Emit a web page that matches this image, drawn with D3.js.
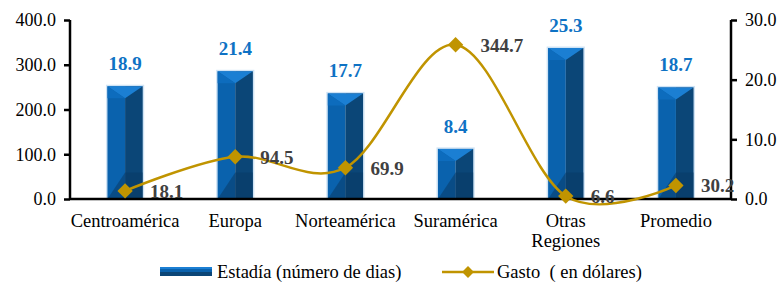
<!DOCTYPE html>
<html>
<head>
<meta charset="utf-8">
<script src="https://cdn.jsdelivr.net/npm/d3@7"></script>
</head>
<body style="margin:0">
<svg id="chart" width="781" height="284" font-family="Liberation Serif"></svg>
<script>
const categories = ["Centroamérica", "Europa", "Norteamérica", "Suramérica", "Otras Regiones", "Promedio"];
const estadia = [18.9, 21.4, 17.7, 8.4, 25.3, 18.7];
const gasto = [18.1, 94.5, 69.9, 344.7, 6.6, 30.2];
const leftTicks = [0, 100, 200, 300, 400];
const rightTicks = [0, 10, 20, 30];

const plot = { left: 70, right: 731, top: 20, bottom: 199 };
const fontFam = "Liberation Serif";

const svg = d3.select("#chart");

const x = d3.scaleBand()
  .domain(categories)
  .range([plot.left, plot.right])
  .paddingInner(0.68)
  .paddingOuter(0.34);

const yLeft = d3.scaleLinear().domain([0, 400]).range([plot.bottom, plot.top]);
const yRight = d3.scaleLinear().domain([0, 30]).range([plot.bottom, plot.top]);

// Bars (3D prism look)
const bw = x.bandwidth();
const bars = svg.append("g").selectAll("g")
  .data(categories.map((c, i) => ({ c, v: estadia[i] })))
  .enter().append("g");

bars.each(function (d) {
  const g = d3.select(this);
  const x0 = x(d.c), x1 = x0 + bw, xm = x0 + bw / 2;
  const top = yRight(d.v), bot = yRight(0);
  const bev = Math.min(12, (bot - top) / 3);
  g.append("rect").attr("x", x0 - 1.5).attr("y", top - 1.5)
    .attr("width", bw + 3).attr("height", bot - top + 1.5)
    .attr("fill", "#cfe3f5");
  g.append("rect").attr("x", x0).attr("y", top)
    .attr("width", bw / 2).attr("height", bot - top).attr("fill", "#0a62ad");
  g.append("rect").attr("x", xm).attr("y", top)
    .attr("width", bw / 2).attr("height", bot - top).attr("fill", "#0b4677");
  g.append("polygon")
    .attr("points", [[x0, top], [x1, top], [xm, top + bev]].join(" "))
    .attr("fill", "#1b7fd3");
  g.append("polygon")
    .attr("points", [[x0, top], [xm, top + bev], [x0, top + bev]].join(" "))
    .attr("fill", "#0d6cbd");
  g.append("polygon")
    .attr("points", [[x0, bot], [xm, bot - bev * 2.2], [x1, bot - bev * 2.2], [x1, bot]].join(" "))
    .attr("fill", "#0a3b66").attr("opacity", 0.55);
});

// Bar labels
svg.append("g").selectAll("text")
  .data(categories.map((c, i) => ({ c, v: estadia[i] })))
  .enter().append("text")
  .attr("x", d => x(d.c) + bw / 2)
  .attr("y", d => yRight(d.v) - 16)
  .attr("text-anchor", "middle")
  .attr("font-size", 19)
  .attr("font-weight", "bold")
  .attr("fill", "#0e72c4")
  .text(d => d.v.toFixed(1));

// Axes
const axisL = svg.append("g").attr("transform", `translate(${plot.left},0)`)
  .call(d3.axisLeft(yLeft).tickValues(leftTicks).tickFormat(d3.format(".1f")).tickSize(6).tickPadding(8));
const axisR = svg.append("g").attr("transform", `translate(${plot.right},0)`)
  .call(d3.axisRight(yRight).tickValues(rightTicks).tickFormat(d3.format(".1f")).tickSize(6).tickPadding(8));
[axisL, axisR].forEach(a => {
  a.attr("font-size", 18).attr("font-family", fontFam);
  a.select(".domain").attr("stroke", "#000").attr("stroke-width", 2.5)
    .attr("d", `M0,${plot.top}V${plot.bottom}`);
  a.selectAll(".tick line").attr("stroke", "#000").attr("stroke-width", 2.5);
  a.selectAll(".tick text").attr("fill", "#000");
});

svg.append("line")
  .attr("x1", plot.left).attr("x2", plot.right)
  .attr("y1", plot.bottom).attr("y2", plot.bottom)
  .attr("stroke", "#000").attr("stroke-width", 2.5);

// Category labels
const catText = svg.append("g").selectAll("text")
  .data(categories)
  .enter().append("text")
  .attr("x", d => x(d) + bw / 2)
  .attr("y", 227)
  .attr("text-anchor", "middle")
  .attr("font-size", 18.5)
  .attr("fill", "#000");
catText.each(function (d) {
  const words = d === "Otras Regiones" ? ["Otras", "Regiones"] : [d];
  const t = d3.select(this);
  words.forEach((w, i) => {
    t.append("tspan").attr("x", x(d) + bw / 2).attr("dy", i === 0 ? 0 : 20).text(w);
  });
});

// Gasto line
const pts = categories.map((c, i) => ({ c, v: gasto[i] }));
const line = d3.line()
  .x(d => x(d.c) + bw / 2)
  .y(d => yLeft(d.v))
  .curve(d3.curveCatmullRom.alpha(0));
svg.append("path")
  .datum(pts)
  .attr("d", line)
  .attr("fill", "none")
  .attr("stroke", "#c09400")
  .attr("stroke-width", 2.5);

const diamond = d3.symbol().type(d3.symbolDiamond2).size(150);
svg.append("g").selectAll("path")
  .data(pts)
  .enter().append("path")
  .attr("transform", d => `translate(${x(d.c) + bw / 2},${yLeft(d.v)})`)
  .attr("d", diamond)
  .attr("fill", "#c09400");

svg.append("g").selectAll("text")
  .data(pts)
  .enter().append("text")
  .attr("x", d => x(d.c) + bw / 2 + 25)
  .attr("y", d => yLeft(d.v) + 7)
  .attr("font-size", 19)
  .attr("font-weight", "bold")
  .attr("fill", "#404040")
  .text(d => d.v.toFixed(1));

// Legend
const leg = svg.append("g");
leg.append("rect").attr("x", 160).attr("y", 267).attr("width", 52).attr("height", 9).attr("fill", "#0a62ad");
leg.append("rect").attr("x", 160).attr("y", 272).attr("width", 52).attr("height", 4).attr("fill", "#0b4677");
leg.append("rect").attr("x", 160).attr("y", 267).attr("width", 52).attr("height", 2).attr("fill", "#1b7fd3");
leg.append("text").attr("x", 217).attr("y", 278).attr("font-size", 18.5).text("Estadía (número de dias)");
leg.append("line").attr("x1", 442).attr("x2", 494).attr("y1", 272).attr("y2", 272)
  .attr("stroke", "#c09400").attr("stroke-width", 2.5);
leg.append("path").attr("transform", "translate(468,272)").attr("d", d3.symbol().type(d3.symbolDiamond2).size(90)).attr("fill", "#c09400");
leg.append("text").attr("x", 497).attr("y", 278).attr("font-size", 18.5).style("white-space", "pre").text("Gasto  ( en dólares)");

svg.selectAll("text").attr("font-family", fontFam).style("font-family", fontFam);
</script>
</body>
</html>
